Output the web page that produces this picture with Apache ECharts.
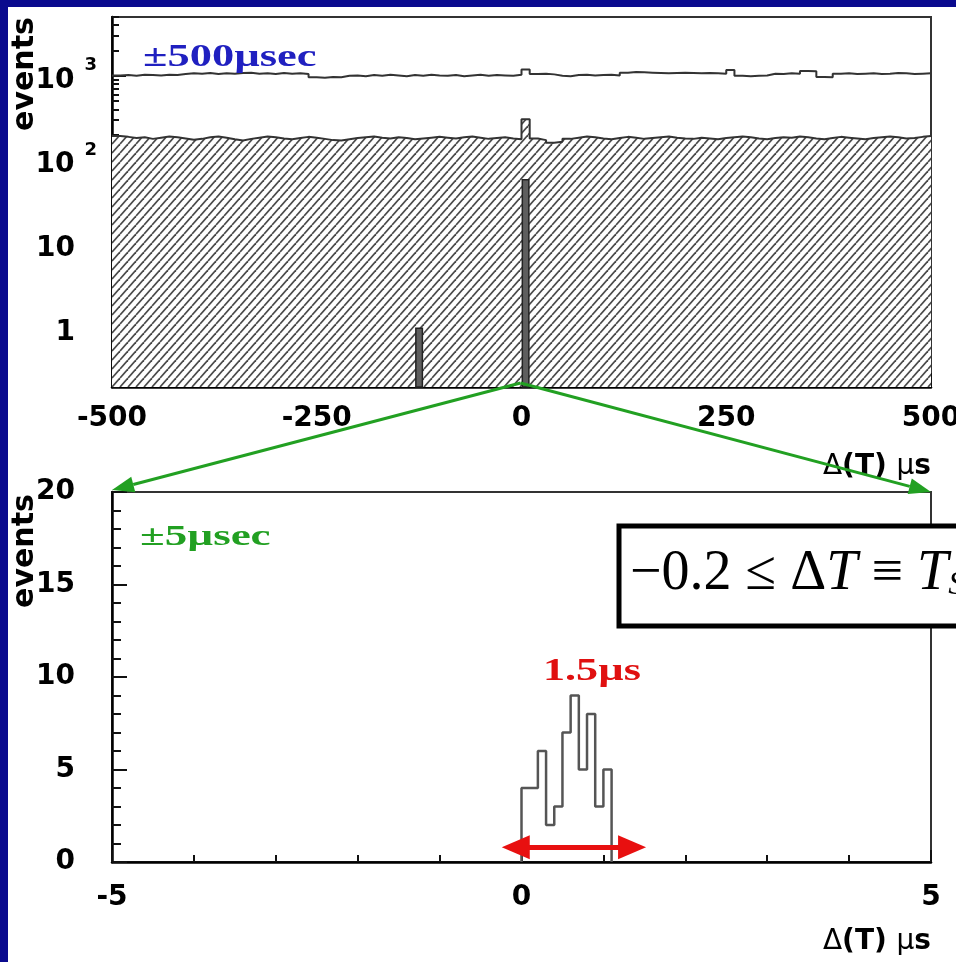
<!DOCTYPE html>
<html><head><meta charset="utf-8">
<script src="https://cdn.jsdelivr.net/npm/echarts@6/dist/echarts.min.js"></script>
<style>html,body{margin:0;padding:0;background:#fff;overflow:hidden}#c{width:956px;height:962px}</style>
</head><body><div id="c"></div>
<script>
// ---------- data ----------
const topBinStart = -500;
const topBinWidth = 10;
// all events (open histogram, ~1000 per bin)
const topAllEvents = [
 1010,1020,1000,1030,1020,1010,1030,1020,1050,1070,
 1060,1080,1050,1070,1060,1080,1090,1060,1070,1050,
 1080,1060,1070,1050,960,950,970,960,1000,1010,
 990,1020,1000,1030,1010,990,1020,1000,1030,1010,
 1000,1020,990,1010,1030,1000,1020,1010,1000,1030,
 1190,1050,1060,1040,1000,990,1020,1030,1010,1020,
 1030,1010,1090,1110,1100,1090,1080,1070,1080,1090,
 1080,1070,1080,1070,1060,1170,1000,990,1000,1010,
 1060,1050,1070,1060,1140,1130,970,960,1060,1070,
 1050,1060,1070,1050,1060,1080,1070,1050,1060,1070];
// selected events (hatched histogram, ~180 per bin)
const topSelected = [
 192,188,182,186,178,184,190,186,180,174,
 178,186,190,184,176,170,178,184,190,186,
 180,176,182,188,184,178,172,170,176,182,
 186,190,184,180,186,182,176,180,184,188,
 184,180,186,190,184,178,182,186,180,176,
 305,180,172,160,164,178,184,190,186,180,
 176,182,188,184,178,182,186,190,184,180,
 178,184,180,176,182,186,190,186,180,176,
 182,186,184,190,186,180,176,182,188,184,
 180,176,182,186,190,186,180,182,188,192];
// final candidates (dark bars)
const topSignalBinStarts = [-130, 0];
const topSignalCounts = [1, 58];

const bottomBinStart = 0;
const bottomBinWidth = 0.1;
const bottomCounts = [4, 4, 6, 2, 3, 7, 9, 5, 8, 3, 5];

const topXTicks = [-500, -250, 0, 250, 500];
const topYTicks = [1, 10, 100, 1000];
const bottomXTicks = [-5, 0, 5];
const bottomYTicks = [0, 5, 10, 15, 20];
const topYMin = 0.2, topYMax = 5000;
const arrowSpan = [-0.07, 1.35];
const arrowLevel = 0.8;

// ---------- helpers ----------
function stepData(start, width, vals) {
  const d = vals.map((v, i) => [start + i * width, v]);
  d.push([start + vals.length * width, vals[vals.length - 1]]);
  return d;
}
function makeHatch() {
  const w = 8, h = 9;
  const c = document.createElement('canvas');
  c.width = w; c.height = h;
  const g = c.getContext('2d');
  g.fillStyle = '#fff'; g.fillRect(0, 0, w, h);
  g.strokeStyle = '#4a4a4a'; g.lineWidth = 1.7;
  for (const dx of [-w, 0, w]) { g.beginPath(); g.moveTo(dx, h); g.lineTo(dx + w, 0); g.stroke(); }
  return c;
}
const minorLog = [];
[0.1, 1, 10, 100, 1000].forEach(d => { for (let k = 2; k <= 9; k++) { const v = +(k * d).toPrecision(3); if (v >= topYMin && v <= topYMax) minorLog.push(v); } });

const FONT = 'DejaVu Sans';
const lblBase = { fontFamily: FONT, fontWeight: 'bold', fontSize: 28, color: '#000' };

const bottomOutline = [[bottomBinStart, 0]].concat(stepData(bottomBinStart, bottomBinWidth, bottomCounts));
bottomOutline.push([bottomBinStart + bottomCounts.length * bottomBinWidth, 0]);

const xName = {
  name: '{d|Δ}{b|(T) }{d|µ}{b|s}', nameLocation: 'end', nameGap: 0,
  nameTextStyle: { align: 'right', verticalAlign: 'top', padding: [66, 0, 0, 0],
    rich: { d: { fontFamily: FONT, fontSize: 28, color: '#000' }, b: { fontFamily: FONT, fontSize: 28, fontWeight: 'bold', color: '#000' } } }
};

const chart = echarts.init(document.getElementById('c'), null, { renderer: 'canvas' });
const option = {
  animation: false,
  backgroundColor: '#fff',
  grid: [
    { left: 112, top: 17, width: 819, height: 370, show: true, borderColor: '#333', borderWidth: 2, backgroundColor: 'transparent', containLabel: false, outerBoundsMode: 'none' },
    { left: 112, top: 492, width: 819, height: 370, show: true, borderColor: '#333', borderWidth: 2, backgroundColor: 'transparent', containLabel: false, outerBoundsMode: 'none' }
  ],
  xAxis: [
    Object.assign({ type: 'value', gridIndex: 0, min: -500, max: 500, interval: 250,
      axisLine: { onZero: false, lineStyle: { color: '#000', width: 2.5 } },
      axisTick: { inside: true, length: 14, lineStyle: { color: '#111', width: 2 } },
      minorTick: { show: true, splitNumber: 5, length: 7, lineStyle: { color: '#111', width: 2 } },
      splitLine: { show: false },
      axisLabel: Object.assign({ margin: 18, customValues: topXTicks }, lblBase) }, xName),
    Object.assign({ type: 'value', gridIndex: 1, min: -5, max: 5, interval: 5,
      axisLine: { onZero: false, lineStyle: { color: '#000', width: 2.5 } },
      axisTick: { inside: true, length: 12, lineStyle: { color: '#111', width: 2 } },
      minorTick: { show: true, splitNumber: 5, length: 7, lineStyle: { color: '#111', width: 2 } },
      splitLine: { show: false },
      axisLabel: Object.assign({ margin: 22, customValues: bottomXTicks }, lblBase) }, xName)
  ],
  yAxis: [
    { type: 'log', gridIndex: 0, position: 'left', min: topYMin, max: topYMax, logBase: 10,
      axisLine: { show: true, onZero: false, lineStyle: { color: '#000', width: 2.5 } },
      axisTick: { inside: true, length: 14, customValues: topYTicks, lineStyle: { color: '#111', width: 2 } },
      splitLine: { show: false },
      axisLabel: { customValues: topYTicks, margin: 15,
        formatter: v => {
          if (Math.abs(v - 1000) < 1e-6) return '{b|10}{s|3}';
          if (Math.abs(v - 100) < 1e-6) return '{b|10}{s|2}';
          if (Math.abs(v - 10) < 1e-6) return '{b|10}{sp|}';
          if (Math.abs(v - 1) < 1e-6) return '{b|1}{sp|}';
          return '';
        },
        rich: {
          b: Object.assign({ padding: [10, 0, 0, 0] }, lblBase),
          s: { fontFamily: FONT, fontWeight: 'bold', fontSize: 18, color: '#000', verticalAlign: 'top', padding: [0, 0, 0, 10] },
          sp: { width: 22 }
        } } },
    { type: 'log', gridIndex: 0, position: 'left', offset: 0, min: topYMin, max: topYMax, logBase: 10,
      axisLine: { show: false, onZero: false },
      axisTick: { inside: true, length: 7, customValues: minorLog, lineStyle: { color: '#111', width: 2 } },
      splitLine: { show: false }, axisLabel: { show: false } },
    { type: 'value', gridIndex: 1, min: 0, max: 20, interval: 5,
      axisLine: { show: true, onZero: false, lineStyle: { color: '#000', width: 2.5 } },
      axisTick: { inside: true, length: 15, lineStyle: { color: '#111', width: 2 } },
      minorTick: { show: true, splitNumber: 5, length: 9, lineStyle: { color: '#111', width: 2 } },
      splitLine: { show: false },
      axisLabel: Object.assign({ margin: 37, customValues: bottomYTicks }, lblBase) }
  ],
  series: [
    { type: 'line', name: 'selected', xAxisIndex: 0, yAxisIndex: 0, step: 'end', symbol: 'none',
      data: stepData(topBinStart, topBinWidth, topSelected),
      lineStyle: { color: '#333', width: 2 },
      areaStyle: { color: { image: makeHatch(), repeat: 'repeat' }, opacity: 1, origin: 'start' }, z: 2 },
    { type: 'line', name: 'all', xAxisIndex: 0, yAxisIndex: 0, step: 'end', symbol: 'none',
      data: stepData(topBinStart, topBinWidth, topAllEvents),
      lineStyle: { color: '#333', width: 2 }, z: 3 },
    { type: 'custom', name: 'signal', xAxisIndex: 0, yAxisIndex: 0, z: 4,
      data: topSignalBinStarts.map((x, i) => [x, x + topBinWidth, topSignalCounts[i]]),
      encode: { x: [0, 1], y: 2 },
      renderItem: (params, api) => {
        const p0 = api.coord([api.value(0) + 1, api.value(2)]);
        const p1 = api.coord([api.value(1) - 1, topYMin]);
        return { type: 'rect', shape: { x: p0[0], y: p0[1], width: p1[0] - p0[0], height: p1[1] - p0[1] },
          style: { fill: '#5e5e5e', stroke: '#222', lineWidth: 1.5 } };
      } },
    { type: 'line', name: 'window', xAxisIndex: 1, yAxisIndex: 2, step: 'end', symbol: 'none',
      data: bottomOutline, lineStyle: { color: '#555', width: 2.5 }, z: 3,
      markLine: { silent: true, symbol: ['triangle', 'triangle'], symbolSize: [24, 28], label: { show: false },
        lineStyle: { color: '#e81010', width: 5, type: 'solid' },
        data: [[{ coord: [arrowSpan[0], arrowLevel] }, { coord: [arrowSpan[1], arrowLevel] }]] } }
  ]
};
chart.setOption(option);

// annotations
const p0 = chart.convertToPixel({ xAxisIndex: 0, yAxisIndex: 0 }, [0, topYMin]);
const pL = chart.convertToPixel({ xAxisIndex: 1, yAxisIndex: 2 }, [-5, 20]);
const pR = chart.convertToPixel({ xAxisIndex: 1, yAxisIndex: 2 }, [5, 20]);
const start = [p0[0] - 1, p0[1] - 4];
function arrow(from, tip, color) {
  const dx = tip[0] - from[0], dy = tip[1] - from[1], L = Math.hypot(dx, dy);
  const ux = dx / L, uy = dy / L, len = 22, half = 8;
  const bx = tip[0] - ux * len, by = tip[1] - uy * len;
  return [
    { type: 'line', z: 50, shape: { x1: from[0], y1: from[1], x2: bx, y2: by }, style: { stroke: color, lineWidth: 3 } },
    { type: 'polygon', z: 50, shape: { points: [[tip[0], tip[1]], [bx - uy * half, by + ux * half], [bx + uy * half, by - ux * half]] }, style: { fill: color } }
  ];
}
const green = '#22a022';
const serifB = 'bold {S}px "Liberation Serif", "Times New Roman", serif';
chart.setOption({ graphic: [
  { type: 'rect', z: 100, shape: { x: 0, y: 0, width: 8, height: 962 }, style: { fill: '#0a0a8e' } },
  { type: 'rect', z: 100, shape: { x: 0, y: 0, width: 956, height: 7 }, style: { fill: '#0a0a8e' } },
  ...arrow(start, [pL[0], pL[1] - 2], green),
  ...arrow(start, [pR[0], pR[1]], green),
  { type: 'text', z: 60, x: 143, y: 58, scaleX: 1.39, style: { text: '±500µsec', font: serifB.replace('{S}', 32), fill: '#2020c0', verticalAlign: 'middle' } },
  { type: 'text', z: 60, x: 140, y: 537, scaleX: 1.5, style: { text: '±5µsec', font: serifB.replace('{S}', 30), fill: green, verticalAlign: 'middle' } },
  { type: 'text', z: 60, x: 543, y: 672, scaleX: 1.38, style: { text: '1.5µs', font: serifB.replace('{S}', 32), fill: '#e01010', verticalAlign: 'middle' } },
  { type: 'text', z: 60, x: 25, y: 74, rotation: Math.PI / 2, style: { text: 'events', font: 'bold 30px "DejaVu Sans"', fill: '#000', align: 'center', verticalAlign: 'middle' } },
  { type: 'text', z: 60, x: 25, y: 551, rotation: Math.PI / 2, style: { text: 'events', font: 'bold 30px "DejaVu Sans"', fill: '#000', align: 'center', verticalAlign: 'middle' } },
  { type: 'rect', z: 70, shape: { x: 619, y: 526, width: 360, height: 100 }, style: { fill: '#fff', stroke: '#000', lineWidth: 5 } },
  { type: 'text', z: 71, x: 630, y: 574, style: { text: '−0.2 ≤ Δ{i|T} ≡ {i|T}{s|S}', font: '56px "Liberation Serif", serif', fill: '#000', verticalAlign: 'middle',
      rich: { i: { font: 'italic 56px "Liberation Serif", serif', fill: '#000' }, s: { font: 'italic 34px "Liberation Serif", serif', fill: '#000', verticalAlign: 'bottom' } } } }
] });
</script>
</body></html>
